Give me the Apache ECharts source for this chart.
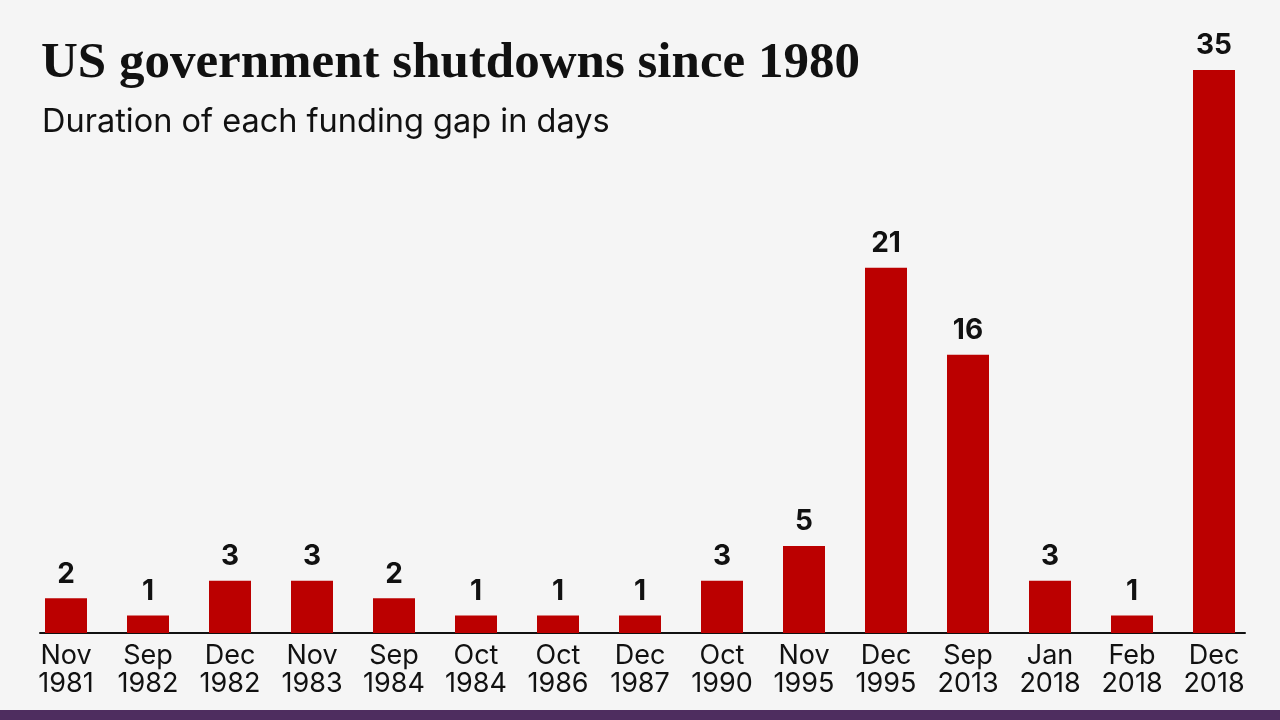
<!DOCTYPE html>
<html>
<head>
<meta charset="utf-8">
<script src="https://cdn.jsdelivr.net/npm/echarts@6/dist/echarts.min.js"></script>
<style>
html,body{margin:0;padding:0;background:#f5f5f5;}
#chart{width:1280px;height:720px;}
</style>
</head>
<body>
<div id="chart"></div>
<script>
const months = ["Nov","Sep","Dec","Nov","Sep","Oct","Oct","Dec","Oct","Nov","Dec","Sep","Jan","Feb","Dec"];
const years = ["1981","1982","1982","1983","1984","1984","1986","1987","1990","1995","1995","2013","2018","2018","2018"];
const days = [2,1,3,3,2,1,1,1,3,5,21,16,3,1,35];
const titleText = "US government shutdowns since 1980";
const subtitleText = "Duration of each funding gap in days";

const categories = months.map((m, i) => m + "\n" + years[i]);

const chart = echarts.init(document.getElementById('chart'));
chart.setOption({
  backgroundColor: '#f5f5f5',
  animation: false,
  title: [
    { text: titleText, left: 36, top: 33,
      textStyle: { fontFamily: 'Liberation Serif', fontSize: 51, fontWeight: 'bold', color: '#111' } },
    { text: subtitleText, left: 37, top: 101,
      textStyle: { fontFamily: 'Inter', fontSize: 32.5, fontWeight: 'normal', color: '#111' } }
  ],
  grid: [
    { left: 25, right: 25, top: 70, bottom: 87 },
    { left: 40, right: 35, top: 70, bottom: 87 }
  ],
  xAxis: [
    { type: 'category', gridIndex: 0, data: categories,
      axisLine: { show: false }, axisTick: { show: false },
      axisLabel: { color: '#111', fontFamily: 'Inter', fontSize: 27, lineHeight: 28, margin: 9, interval: 0 } },
    { type: 'category', gridIndex: 1, data: [],
      axisLine: { show: true, lineStyle: { color: '#111', width: 2 } },
      axisTick: { show: false }, axisLabel: { show: false } }
  ],
  yAxis: [
    { type: 'value', gridIndex: 0, min: 0, max: 32.36, show: false, splitLine: { show: false } },
    { type: 'value', gridIndex: 1, show: false }
  ],
  series: [{
    type: 'bar', xAxisIndex: 0, yAxisIndex: 0, data: days,
    barWidth: 42,
    itemStyle: { color: '#bb0000' },
    label: { show: true, position: 'top', distance: 10, color: '#111',
      fontFamily: 'Inter', fontWeight: 'bold', fontSize: 28 }
  }],
  graphic: [{
    type: 'rect', left: 0, bottom: 0, shape: { width: 1280, height: 10 },
    style: { fill: '#4e2d5f' }
  }]
});
</script>
</body>
</html>
